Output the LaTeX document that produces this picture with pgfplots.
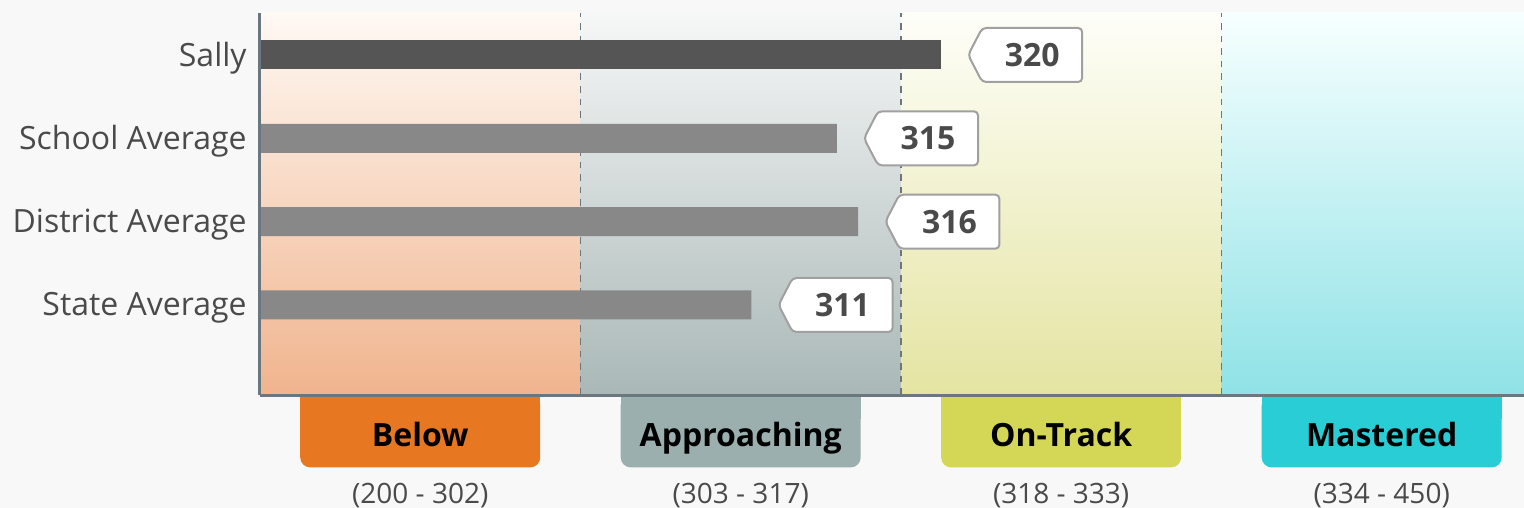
\documentclass[border=0pt]{standalone}
\usepackage{fontspec}
\setmainfont{Open Sans}
\usepackage{pgfplots}
\pgfplotsset{compat=1.18}
\usetikzlibrary{shapes.symbols}

\definecolor{pagebg}{HTML}{F8F8F8}
\definecolor{axisgray}{HTML}{6B777E}
\definecolor{sallybar}{HTML}{555555}
\definecolor{avgbar}{HTML}{888888}
\definecolor{tagline}{HTML}{A0A0A0}
\definecolor{tagtext}{HTML}{4A4A4A}
\definecolor{labeltext}{HTML}{4A4A4A}
% band colours (label box, gradient top, gradient bottom)
\definecolor{belowc}{HTML}{E87722}
\definecolor{belowtop}{HTML}{FFF9F4}
\definecolor{belowbot}{HTML}{F0B48E}
\definecolor{apprc}{HTML}{9AAFAE}
\definecolor{apprtop}{HTML}{F6F7F7}
\definecolor{apprbot}{HTML}{A9B8B6}
\definecolor{trackc}{HTML}{D4D755}
\definecolor{tracktop}{HTML}{FEFEF9}
\definecolor{trackbot}{HTML}{E4E4A2}
\definecolor{mastc}{HTML}{29CDD6}
\definecolor{masttop}{HTML}{F7FFFF}
\definecolor{mastbot}{HTML}{8FE2E6}

\tikzset{
    bandname/.style={font=\fontsize{16}{16}\selectfont\bfseries, anchor=base, yshift=-25.5pt},
    bandrange/.style={font=\fontsize{14}{14}\selectfont, text=labeltext, anchor=base, yshift=-54pt},
}

\begin{document}
\begin{tikzpicture}
\fill[pagebg] (-130pt,-56.5pt) rectangle (632pt,197.5pt);
\useasboundingbox (-130pt,-56.5pt) rectangle (632pt,197.5pt);
\begin{axis}[
    at={(0,0)}, anchor=south west,
    scale only axis,
    width=632pt, height=191pt,
    % each performance band gets the same width on screen
    x coord trafo/.code={\pgfmathparse{#1<303 ? (#1-200)/103 : (#1<318 ? 1+(#1-303)/15 : (#1<334 ? 2+(#1-318)/16 : 3+(#1-334)/116))}},
    xmin=200, xmax=443.5,
    ymin=-0.08, ymax=4.504,
    xtick=\empty,
    ytick={1,2,3,4},
    yticklabels={State Average, District Average, School Average, Sally},
    yticklabel style={font=\fontsize{16}{19}\selectfont, text=labeltext, inner sep=0pt, xshift=-6.5pt, yshift=-1.5pt},
    major tick length=0pt,
    axis x line*=bottom, axis y line*=left,
    axis line style={draw=axisgray, line width=1.5pt, -},
    axis on top,
    clip=false,
    xbar, bar width=14.5pt, bar shift=0pt,
    point meta=explicit symbolic,
    nodes near coords={\pgfplotspointmeta},
    every node near coord/.style={shape=signal, signal to=west, signal pointer angle=125,
        draw=tagline, line width=1pt, fill=white, rounded corners=2pt,
        minimum height=27pt, minimum width=57pt, inner sep=0pt,
        anchor=west, xshift=13pt, text=tagtext,
        font=\fontsize{16}{16}\selectfont\bfseries},
]
% background bands
\fill[top color=belowtop, bottom color=belowbot] (rel axis cs:0,0) rectangle (rel axis cs:0.25355,1);
\fill[top color=apprtop, bottom color=apprbot] (rel axis cs:0.25355,0) rectangle (rel axis cs:0.5071,1);
\fill[top color=tracktop, bottom color=trackbot] (rel axis cs:0.5071,0) rectangle (rel axis cs:0.7606,1);
\fill[top color=masttop, bottom color=mastbot] (rel axis cs:0.7606,0) rectangle (rel axis cs:1,1);
\draw[axisgray, line width=0.7pt, dash pattern=on 3.3pt off 3pt] (rel axis cs:0.25355,0) -- (rel axis cs:0.25355,1);
\draw[axisgray, line width=0.7pt, dash pattern=on 3.3pt off 3pt] (rel axis cs:0.5071,0) -- (rel axis cs:0.5071,1);
\draw[axisgray, line width=0.7pt, dash pattern=on 3.3pt off 3pt] (rel axis cs:0.7606,0) -- (rel axis cs:0.7606,1);

\addplot[fill=sallybar, draw=none] coordinates {(320,4) [320]};
\addplot[fill=avgbar, draw=none] coordinates {(315,3) [315] (316,2) [316] (311,1) [311]};

% band labels under the axis
\node[fill=belowc, rounded corners=5pt, minimum width=120pt, minimum height=36pt, inner sep=0pt, anchor=north] at (rel axis cs:0.12677,0) {};
\node[fill=belowc, minimum width=120pt, minimum height=12pt, inner sep=0pt, anchor=north] at (rel axis cs:0.12677,0) {};
\node[bandname] at (rel axis cs:0.12677,0) {Below};
\node[bandrange] at (rel axis cs:0.12677,0) {(200 - 302)};

\node[fill=apprc, rounded corners=5pt, minimum width=120pt, minimum height=36pt, inner sep=0pt, anchor=north] at (rel axis cs:0.3803,0) {};
\node[fill=apprc, minimum width=120pt, minimum height=12pt, inner sep=0pt, anchor=north] at (rel axis cs:0.3803,0) {};
\node[bandname] at (rel axis cs:0.3803,0) {Approaching};
\node[bandrange] at (rel axis cs:0.3803,0) {(303 - 317)};

\node[fill=trackc, rounded corners=5pt, minimum width=120pt, minimum height=36pt, inner sep=0pt, anchor=north] at (rel axis cs:0.6338,0) {};
\node[fill=trackc, minimum width=120pt, minimum height=12pt, inner sep=0pt, anchor=north] at (rel axis cs:0.6338,0) {};
\node[bandname] at (rel axis cs:0.6338,0) {On-Track};
\node[bandrange] at (rel axis cs:0.6338,0) {(318 - 333)};

\node[fill=mastc, rounded corners=5pt, minimum width=120pt, minimum height=36pt, inner sep=0pt, anchor=north] at (rel axis cs:0.8874,0) {};
\node[fill=mastc, minimum width=120pt, minimum height=12pt, inner sep=0pt, anchor=north] at (rel axis cs:0.8874,0) {};
\node[bandname] at (rel axis cs:0.8874,0) {Mastered};
\node[bandrange] at (rel axis cs:0.8874,0) {(334 - 450)};
\end{axis}
\end{tikzpicture}
\end{document}
